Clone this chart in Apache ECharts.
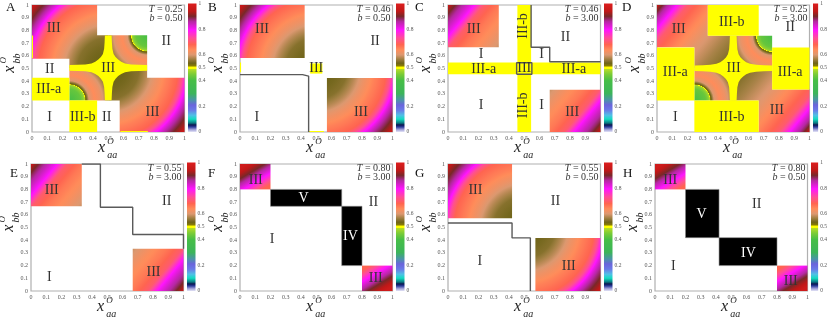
<!DOCTYPE html>
<html><head><meta charset="utf-8">
<script src="https://cdn.jsdelivr.net/npm/echarts@6/dist/echarts.min.js"></script>
<style>html,body{margin:0;padding:0;background:#fff}#c{width:830px;height:318px}</style>
</head><body><div id="c"></div>
<script>
// ---------------- data ----------------
const panelIds = ['A','B','C','D','E','F','G','H'];
const Tvals = [0.25,0.46,0.46,0.25,0.55,0.80,0.55,0.80];
const bvals = [0.50,0.50,3.00,3.00,3.00,3.00,0.50,0.50];
const axisTicks = [0,0.1,0.2,0.3,0.4,0.5,0.6,0.7,0.8,0.9,1];
const cbarTicks = [0,0.2,0.4,0.5,0.6,0.8,1];

// value profiles: [position along gradient, value]
const profRad05 = [[0,0.525],[0.15,0.54],[0.22,0.55],[0.28,0.58],[0.34,0.615],[0.42,0.65],[0.5,0.68],[0.53,0.72],[0.57,0.8],[0.61,0.86],[0.65,0.9],[0.71,0.96]];
const profCorner = [[0,0.4],[0.08,0.43],[0.1,0.46],[0.11,0.485],[0.115,0.515],[0.14,0.6],[0.18,0.64],[0.22,0.62],[0.27,0.57],[0.32,0.545],[0.36,0.535]];
const profDiagD = [[0,0.95],[0.06,0.88],[0.15,0.8],[0.24,0.7],[0.4,0.65],[0.55,0.61],[0.75,0.57],[1,0.53]];
const profDiagC = [[0,0.95],[0.12,0.88],[0.3,0.8],[0.42,0.7],[0.6,0.66],[0.8,0.63],[1,0.59]];
const profDiagF = [[0,0.97],[0.3,0.9],[0.65,0.8],[1,0.68]];

// heat patches: [x0,x1,y0,y1, kind, ax,ay, bx,by, profile]
const heatA = [
  [0,0.427,0.577,1,'R',0.5,0.5,null,null,'rad05'],
  [0.245,0.5,0.5,0.761,'R',0.5,0.5,null,null,'rad05'],
  [0.5,0.755,0.249,0.5,'R',0.5,0.5,null,null,'rad05'],
  [0.575,1,0,0.428,'R',0.5,0.5,null,null,'rad05'],
  [0.245,0.5,0.249,0.5,'R',0.245,0.249,null,null,'corner'],
  [0.5,0.755,0.5,0.761,'R',0.755,0.761,null,null,'corner']
];
const heatB = [
  [0,0.424,0.582,1,'R',0.5,0.5,null,null,'rad05'],
  [0.57,1,0,0.426,'R',0.5,0.5,null,null,'rad05']
];
const heatC = [
  [0,0.333,0.667,1,'L',0,1,0.333,0.667,'diagC'],
  [0.667,1,0,0.333,'L',1,0,0.667,0.333,'diagC']
];
const heatD = [
  [0,0.333,0.667,1,'L',0,1,0.5,0.5,'diagD'],
  [0.245,0.5,0.5,0.757,'L',0,1,0.5,0.5,'diagD'],
  [0.667,1,0,0.334,'L',1,0,0.5,0.5,'diagD'],
  [0.5,0.755,0.248,0.5,'L',1,0,0.5,0.5,'diagD'],
  [0.245,0.5,0.248,0.5,'R',0.245,0.248,null,null,'corner'],
  [0.5,0.755,0.5,0.757,'R',0.755,0.757,null,null,'corner']
];
const heatE = [
  [0,0.333,0.667,1,'L',0,1,0.333,0.667,'diagC'],
  [0.667,1,0,0.333,'L',1,0,0.667,0.333,'diagC']
];
const heatF = [
  [0,0.2,0.8,1,'L',0.05,1,0.15,0.8,'diagF'],
  [0.8,1,0,0.2,'L',0.95,0,0.85,0.2,'diagF']
];
const heatG = [
  [0,0.42,0.572,1,'R',0.5,0.5,null,null,'rad05'],
  [0.573,1,0,0.418,'R',0.5,0.5,null,null,'rad05']
];
const heatH = [
  [0,0.2,0.8,1,'L',0.05,1,0.15,0.8,'diagF'],
  [0.8,1,0,0.2,'L',0.95,0,0.85,0.2,'diagF']
];

// yellow (value 0.5) rectangles [x0,x1,y0,y1]
const yelA = [[0,0.245,0.249,0.428],[0.245,0.427,0,0.249],[0,0.007,0.58,0.76],[0.58,0.76,0,0.008]];
const yelB = [[0.46,0.54,0.46,0.54],[0,0.007,0.47,0.548],[0.45,0.55,0,0.008]];
const yelC = [[0.455,0.545,0,1],[0,1,0.455,0.548]];
const yelD = [[0,0.245,0.248,0.666],[0.333,0.667,0.757,1],[0.755,1,0.334,0.666],[0.245,0.667,0,0.248]];
// black rectangles (IV, V)
const blackF = [[0.2,0.667,0.667,0.8],[0.667,0.8,0.2,0.667]];
const blackH = [[0.2,0.42,0.42,0.8],[0.42,0.8,0.2,0.42]];
// yellow cross: centre and arm profile [distance along arm, half width]
const starA = [0.5,0.505];
const starD = [0.5,0.502];
const starProf = [[0.255,0.022],[0.2,0.024],[0.15,0.027],[0.11,0.035],[0.085,0.048],[0.065,0.065]];
// boundary lines
const lineB = [[0,0.452],[0.41,0.452],[0.41,0.44],[0.45,0.44],[0.45,0]];
const lineC = [[0.545,1],[0.545,0.667],[0.667,0.667],[0.667,0.553],[1,0.553]];
const boxC = [[0.45,0.455],[0.55,0.455],[0.55,0.545],[0.45,0.545],[0.45,0.455]];
const lineE = [[0.333,1],[0.455,1],[0.455,0.66],[0.667,0.66],[0.667,0.445],[1,0.445],[1,0.333]];
const lineG = [[0,0.535],[0.42,0.535],[0.42,0.418],[0.54,0.418],[0.54,0]];
// region labels [x,y,text]
const labA = [[0.142,0.814,'III'],[0.88,0.717,'II'],[0.116,0.49,'II'],[0.11,0.333,'III-a'],[0.5,0.505,'III'],[0.116,0.113,'I'],[0.333,0.113,'III-b'],[0.49,0.113,'II'],[0.79,0.157,'III']];
const labB = [[0.144,0.81,'III'],[0.886,0.713,'II'],[0.5,0.5,'III'],[0.11,0.112,'I'],[0.793,0.157,'III']];
const labC = [[0.168,0.81,'III'],[0.217,0.614,'I'],[0.613,0.614,'I'],[0.77,0.744,'II'],[0.234,0.496,'III-a'],[0.5,0.5,'III'],[0.825,0.496,'III-a'],[0.217,0.209,'I'],[0.613,0.209,'I'],[0.814,0.157,'III']];
const vlabC = [[0.497,0.835,'III-b'],[0.497,0.21,'III-b']];
const labD = [[0.142,0.81,'III'],[0.49,0.862,'III-b'],[0.873,0.822,'II'],[0.12,0.47,'III-a'],[0.502,0.5,'III'],[0.873,0.47,'III-a'],[0.12,0.117,'I'],[0.49,0.117,'III-b'],[0.786,0.17,'III']];
const labE = [[0.136,0.79,'III'],[0.89,0.705,'II'],[0.12,0.104,'I'],[0.803,0.149,'III']];
const labF = [[0.103,0.875,'III'],[0.416,0.726,'V'],[0.724,0.43,'IV'],[0.875,0.7,'II'],[0.21,0.405,'I'],[0.89,0.1,'III']];
const labG = [[0.18,0.79,'III'],[0.705,0.705,'II'],[0.208,0.235,'I'],[0.792,0.196,'III']];
const labH = [[0.1,0.87,'III'],[0.306,0.6,'V'],[0.667,0.679,'II'],[0.613,0.3,'IV'],[0.12,0.196,'I'],[0.89,0.08,'III']];

// ---------------- style / layout ----------------
const profiles = {rad05:profRad05, corner:profCorner, diagD:profDiagD, diagC:profDiagC, diagF:profDiagF};
const heat = [heatA,heatB,heatC,heatD,heatE,heatF,heatG,heatH];
const yel = [yelA,yelB,yelC,yelD,[],[],[],[]];
const blk = [[],[],[],[],[],blackF,[],blackH];
const stars = [starA,null,null,starD,null,null,null,null];
const lines = [[],[lineB],[lineC,boxC],[],[lineE],[],[lineG],[]];
const labs = [labA,labB,labC,labD,labE,labF,labG,labH];
const vlabs = [[],[],vlabC,[],[],[],[],[]];

const plotLeft = [32,240,448,657,31,240,448,655];
const plotTop = [5,5,5,5,164,164,164,164];
const letterX = [6,208,415,622,10,208,415,623];
const letterY = [1,1,1,1,167,167,167,167];
const PW = 152.5, PH = 127;
const SERIF = '"Liberation Serif", "DejaVu Serif", serif';

const cmapStops = [[0,'#e4e4f6'],[0.02,'#9a9ad6'],[0.04,'#2a3a9a'],[0.055,'#0a1450'],[0.07,'#0a7a82'],[0.1,'#14dcc0'],[0.13,'#50c0e6'],[0.17,'#6a7ae6'],[0.21,'#6a64dc'],[0.25,'#4a96a6'],[0.3,'#3cb45a'],[0.4,'#46be46'],[0.45,'#7ccc36'],[0.488,'#b4dc28'],[0.493,'#ffff00'],[0.507,'#ffff00'],[0.512,'#8c8000'],[0.535,'#6e6418'],[0.565,'#9e7e40'],[0.6,'#dc9870'],[0.64,'#ff8c5a'],[0.68,'#ff6450'],[0.73,'#ff4e96'],[0.795,'#ff14ff'],[0.86,'#b428a0'],[0.9,'#782828'],[0.94,'#c01818'],[1,'#dc1e1e']];
function hex2rgb(h){return [parseInt(h.slice(1,3),16),parseInt(h.slice(3,5),16),parseInt(h.slice(5,7),16)];}
const cmapRGB = cmapStops.map(s=>[s[0],hex2rgb(s[1])]);
function cmap(v){
  v = Math.max(0,Math.min(1,v));
  for (let i=1;i<cmapRGB.length;i++){
    if (v<=cmapRGB[i][0]){
      const a=cmapRGB[i-1][0], ca=cmapRGB[i-1][1], b=cmapRGB[i][0], cb=cmapRGB[i][1];
      const f=(v-a)/((b-a)||1);
      return 'rgb('+ca.map((c,k)=>Math.round(c+(cb[k]-c)*f)).join(',')+')';
    }
  }
  return 'rgb('+cmapRGB[cmapRGB.length-1][1].join(',')+')';
}
function colorStops(prof){
  const L = prof[prof.length-1][0];
  const out=[];
  for (let i=0;i<prof.length-1;i++){
    const p0=prof[i][0], v0=prof[i][1], p1=prof[i+1][0], v1=prof[i+1][1];
    const n=Math.max(1,Math.ceil(Math.abs(v1-v0)/0.004));
    for (let k=0;k<n;k++){ const f=k/n; out.push({offset:(p0+(p1-p0)*f)/L, color:cmap(v0+(v1-v0)*f)}); }
  }
  out.push({offset:1,color:cmap(prof[prof.length-1][1])});
  return out;
}
function fmtMain(v){ const r=Math.round(v*10)/10; return r===0?'0':(r===1?'1':r.toFixed(1)); }
function fmtBar(v){ const r=Math.round(v*10)/10; return cbarTicks.indexOf(r)>=0 ? (r===0?'0':(r===1?'1':r.toFixed(1))) : ''; }

function rectSeries(ax, rects, fill, stroke, z){
  return {type:'custom', xAxisIndex:ax, yAxisIndex:ax, silent:true, z:z,
    data: rects.map(r=>[r[0],r[2],r[1],r[3]]), encode:{x:[0,2],y:[1,3]},
    renderItem:(params,api)=>{
      const r=rects[params.dataIndex];
      const a=api.coord([r[0],r[3]]), b=api.coord([r[1],r[2]]);
      return {type:'rect', shape:{x:a[0],y:a[1],width:b[0]-a[0],height:b[1]-a[1]},
        style:{fill:fill, stroke:stroke||null, lineWidth:stroke?0.6:0}};
    }};
}
function heatSeries(ax, patches){
  return {type:'custom', xAxisIndex:ax, yAxisIndex:ax, silent:true, z:1,
    data: patches.map(p=>[p[0],p[2],p[1],p[3]]), encode:{x:[0,2],y:[1,3]},
    renderItem:(params,api)=>{
      const p=patches[params.dataIndex];
      const a=api.coord([p[0],p[3]]), b=api.coord([p[1],p[2]]);
      const prof=profiles[p[9]];
      let fill;
      if (p[4]==='R'){
        const R=prof[prof.length-1][0];
        const c=api.coord([p[5],p[6]]), e=api.coord([p[5]+R,p[6]]), e2=api.coord([p[5],p[6]+R]);
        const rpx=(Math.abs(e[0]-c[0])+Math.abs(e2[1]-c[1]))/2;
        fill=new echarts.graphic.RadialGradient(c[0],c[1],rpx,colorStops(prof),true);
      } else {
        const s=api.coord([p[5],p[6]]), t=api.coord([p[7],p[8]]);
        fill=new echarts.graphic.LinearGradient(s[0],s[1],t[0],t[1],colorStops(prof),true);
      }
      return {type:'rect', shape:{x:a[0],y:a[1],width:b[0]-a[0],height:b[1]-a[1]}, style:{fill:fill}};
    }};
}
function starSeries(ax, c){
  const q=[];
  starProf.forEach(s=>q.push([s[0],s[1]]));
  for (let i=starProf.length-2;i>=0;i--) q.push([starProf[i][1],starProf[i][0]]);
  const rq=q.slice().reverse();
  const pts=[];
  q.forEach(s=>pts.push([c[0]+s[0],c[1]+s[1]]));
  rq.forEach(s=>pts.push([c[0]-s[0],c[1]+s[1]]));
  q.forEach(s=>pts.push([c[0]-s[0],c[1]-s[1]]));
  rq.forEach(s=>pts.push([c[0]+s[0],c[1]-s[1]]));
  return {type:'custom', xAxisIndex:ax, yAxisIndex:ax, silent:true, z:3,
    data:[c], renderItem:(params,api)=>({type:'polygon', shape:{points:pts.map(p=>api.coord(p))}, style:{fill:'#ffff00'}})};
}
function labelSeries(ax, labels, rotated){
  return {type:'custom', xAxisIndex:ax, yAxisIndex:ax, silent:true, z:6,
    data: labels.map(l=>[l[0],l[1]]),
    renderItem:(params,api)=>{
      const l=labels[params.dataIndex];
      const c=api.coord([l[0],l[1]]);
      const white=(l[2]==='V'||l[2]==='IV');
      return {type:'text', x:c[0], y:c[1], rotation: rotated?Math.PI/2:0,
        style:{text:l[2], fontSize:14, fontFamily:SERIF, fill:white?'#ffffff':'#333333', align:'center', verticalAlign:'middle'}};
    }};
}
function mathTitle(x,y,sub,rot){
  return {type:'group', x:x, y:y, rotation:rot, silent:true, children:[
    {type:'text', x:-10.3, y:0, style:{text:'x', font:'italic 16px '+SERIF, fill:'#222', align:'left', verticalAlign:'middle'}},
    {type:'text', x:-1, y:-6.3, style:{text:'O', font:'italic 9px '+SERIF, fill:'#222', align:'left', verticalAlign:'middle'}},
    {type:'text', x:-1, y:7.4, style:{text:sub, font:'italic 10px '+SERIF, fill:'#222', align:'left', verticalAlign:'middle'}}
  ]};
}

const grids=[], xAxes=[], yAxes=[], series=[], graphics=[];
panelIds.forEach((id,i)=>{
  const L=plotLeft[i], T=plotTop[i];
  const gm=2*i, gc=2*i+1;
  grids.push({left:L, top:T, width:PW, height:PH, show:true, borderColor:'#b0b0b0', borderWidth:1.2, backgroundColor:'#ffffff'});
  grids.push({left:L+156, top:T-1.5, width:8.5, height:PH+1.5, show:false});
  const lab={fontSize:6, color:'#555', fontFamily:SERIF, formatter:fmtMain, showMinLabel:true, showMaxLabel:true};
  xAxes.push({gridIndex:gm, type:'value', min:0, max:1, interval:0.1, axisLine:{show:false}, axisTick:{show:false}, splitLine:{show:false}, axisLabel:Object.assign({margin:3}, lab)});
  yAxes.push({gridIndex:gm, type:'value', min:0, max:1, interval:0.1, axisLine:{show:false}, axisTick:{show:false}, splitLine:{show:false}, axisLabel:Object.assign({margin:3}, lab)});
  xAxes.push({gridIndex:gc, type:'value', min:0, max:1, show:false});
  yAxes.push({gridIndex:gc, type:'value', min:0, max:1, interval:0.1, position:'right', axisLine:{show:false}, axisTick:{show:false}, splitLine:{show:false},
    axisLabel:{fontSize:5.5, color:'#555', fontFamily:SERIF, margin:2, formatter:fmtBar, showMinLabel:true, showMaxLabel:true}});

  series.push(heatSeries(gm, heat[i]));
  if (yel[i].length) series.push(rectSeries(gm, yel[i], '#ffff00', null, 2));
  if (blk[i].length) series.push(rectSeries(gm, blk[i], '#000000', '#888888', 2));
  if (stars[i]) series.push(starSeries(gm, stars[i]));
  lines[i].forEach(ln=>series.push({type:'line', xAxisIndex:gm, yAxisIndex:gm, data:ln, symbol:'none', silent:true, z:5,
    lineStyle:{color:'#5a5a5a', width:1.4}}));
  series.push(labelSeries(gm, labs[i], false));
  if (vlabs[i].length) series.push(labelSeries(gm, vlabs[i], true));
  // colour bar
  series.push({type:'custom', xAxisIndex:gc, yAxisIndex:gc, silent:true, data:[[0,0,1,1]], encode:{x:[0,2],y:[1,3]},
    renderItem:(params,api)=>{
      const a=api.coord([0,1]), b=api.coord([1,0]);
      const st=[];
      for (let k=0;k<=400;k++){ const v=1-k/400; st.push({offset:k/400, color:cmap(v)}); }
      return {type:'rect', shape:{x:a[0],y:a[1],width:b[0]-a[0],height:b[1]-a[1]},
        style:{fill:new echarts.graphic.LinearGradient(0,a[1],0,b[1],st,true)}};
    }});

  // panel letter, annotation, axis titles
  graphics.push({type:'text', x:letterX[i], y:letterY[i], silent:true, style:{text:id, font:'13px '+SERIF, fill:'#111', align:'left', verticalAlign:'top'}});
  graphics.push({type:'text', x:L+PW*0.987, y:T+PH*0.037, silent:true, style:{text:'{i|T} = '+Tvals[i].toFixed(2), font:'10px '+SERIF, fill:'#333', align:'right', verticalAlign:'middle', rich:{i:{fontStyle:'italic', fontSize:10, fontFamily:SERIF, fill:'#333'}}}});
  graphics.push({type:'text', x:L+PW*0.987, y:T+PH*0.107, silent:true, style:{text:'{i|b} = '+bvals[i].toFixed(2), font:'10px '+SERIF, fill:'#333', align:'right', verticalAlign:'middle', rich:{i:{fontStyle:'italic', fontSize:10, fontFamily:SERIF, fill:'#333'}}}});
  graphics.push(mathTitle(L+PW/2, T+PH+16, 'aa', 0));
  graphics.push(mathTitle(L-22, T+PH/2-6, 'bb', Math.PI/2));
});

const chart = echarts.init(document.getElementById('c'), null, {renderer:'canvas'});
chart.setOption({animation:false, backgroundColor:'#ffffff', textStyle:{fontFamily:SERIF},
  grid:grids, xAxis:xAxes, yAxis:yAxes, series:series, graphic:graphics});
</script></body></html>
